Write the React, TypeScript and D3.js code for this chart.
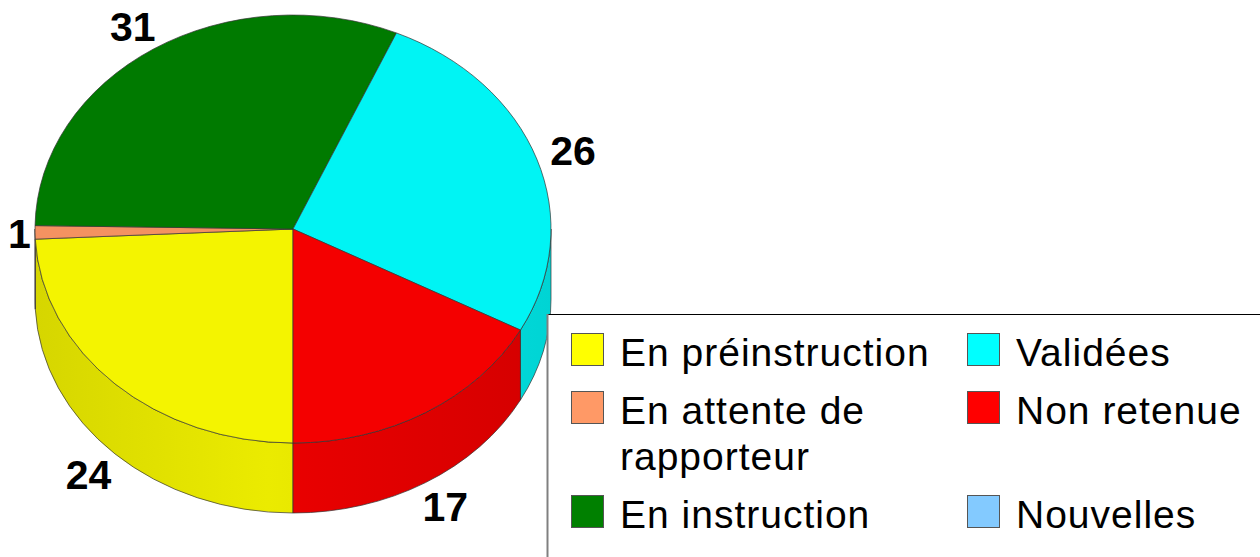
import React from 'react';
import * as d3 from 'd3';

const width = 1260;
const height = 557;
const font = "'Liberation Sans', Arial, sans-serif";

// data
const categories = ['En préinstruction', 'En attente de rapporteur', 'En instruction', 'Validées', 'Non retenue', 'Nouvelles'];
const values = [24, 1, 31, 26, 17, 0];
const colors = ['#ffff00', '#ff9966', '#008000', '#00ffff', '#ff0000', '#83caff'];
// legend columns (indexes into categories)
const legendCols = [[0, 1, 2], [3, 4, 5]];

// pie geometry
const cx = 293;
const cy = 229;
const rx = 258;
const ry = 214;
const depth = 70;

function shade(c: string, k: number) {
    const rgb = d3.rgb(c);
    return d3.rgb(rgb.r * k, rgb.g * k, rgb.b * k).formatHex();
}

// point on the top ellipse (a = angle from 12 o'clock, clockwise)
function pt(a: number, k = 1, dy = 0): [number, number] {
    return [cx + rx * k * Math.sin(a), cy - ry * k * Math.cos(a) + dy];
}

function topPath(a0: number, a1: number) {
    const p0 = pt(a0);
    const p1 = pt(a1);
    const large = a1 - a0 > Math.PI ? 1 : 0;
    return `M${cx},${cy}L${p0[0]},${p0[1]}A${rx},${ry} 0 ${large} 1 ${p1[0]},${p1[1]}Z`;
}

function sidePaths(a0: number, a1: number) {
    // only the front half (PI/2 .. 3PI/2, mod 2PI) is visible
    const out: string[] = [];
    for (const off of [0, 2 * Math.PI]) {
        const s = Math.max(a0, Math.PI / 2 + off);
        const e = Math.min(a1, 1.5 * Math.PI + off);
        if (e <= s) continue;
        const p0 = pt(s);
        const p1 = pt(e);
        const q0 = pt(s, 1, depth);
        const q1 = pt(e, 1, depth);
        out.push(`M${p0[0]},${p0[1]}A${rx},${ry} 0 0 1 ${p1[0]},${p1[1]}L${q1[0]},${q1[1]}A${rx},${ry} 0 0 0 ${q0[0]},${q0[1]}Z`);
    }
    return out;
}

let ctx: CanvasRenderingContext2D | null = null;
function textWidth(t: string, f: string, spacing = 0) {
    if (!ctx) ctx = document.createElement('canvas').getContext('2d');
    ctx!.font = f;
    return ctx!.measureText(t).width + spacing * t.length;
}

function wrap(t: string, f: string, maxW: number, spacing: number) {
    const words = t.split(' ');
    const lines: string[] = [];
    let cur = '';
    for (const w of words) {
        const test = cur ? cur + ' ' + w : w;
        if (cur && textWidth(test, f, spacing) > maxW) {
            lines.push(cur);
            cur = w;
        } else {
            cur = test;
        }
    }
    if (cur) lines.push(cur);
    return lines;
}

export default function App() {
    const data = categories.map((name, i) => ({name, value: values[i], color: colors[i]}));
    const arcs = d3.pie<any>()
        .value(d => d.value)
        .sort(null)
        .startAngle(Math.PI)
        .endAngle(3 * Math.PI)(data)
        .filter(a => a.value > 0);

    const labelSize = 41;
    const labelFont = `bold ${labelSize}px ${font}`;
    const labels = arcs.map(a => {
        const mid = (a.startAngle + a.endAngle) / 2;
        const front = Math.cos(mid) < -0.3;
        const [px, py] = pt(mid, 1.06, front ? depth : 0);
        const txt = String(a.value);
        const w = textWidth(txt, labelFont);
        const h = labelSize * 0.72;
        const x = Math.max(px + Math.sin(mid) * w / 2, w / 2 + 8);
        const yc = py - Math.cos(mid) * h / 2;
        return {txt, x, y: yc + h / 2};
    });

    // legend
    const legSize = 39;
    const legSpacing = 1;
    const legFont = `${legSize}px ${font}`;
    const lineH = 46;
    const colX = [571, 967];
    const rows = legendCols[0].map((_, r) => legendCols.map(col => wrap(categories[col[r]], legFont, 330, legSpacing)));
    let rowTop = 330;
    const legendItems: any[] = [];
    rows.forEach((row, r) => {
        const n = d3.max(row, l => l.length) || 1;
        row.forEach((lines, c) => {
            const idx = legendCols[c][r];
            legendItems.push({x: colX[c], top: rowTop, lines, color: colors[idx], key: idx});
        });
        rowTop += n * lineH + 12;
    });

    return (
        <svg width={width} height={height} style={{position: 'absolute', left: 0, top: 0, background: '#fff'}}>
            <defs>
                {arcs.map((a, i) => (
                    <linearGradient key={i} id={`side${i}`} gradientUnits='userSpaceOnUse' x1={cx - rx} x2={cx + rx} y1={0} y2={0}>
                        <stop offset='0' stopColor={shade(a.data.color, 0.84)}/>
                        <stop offset='0.45' stopColor={shade(a.data.color, 0.92)}/>
                        <stop offset='1' stopColor={shade(a.data.color, 0.83)}/>
                    </linearGradient>
                ))}
            </defs>
            <g stroke='#333' strokeWidth={0.7} strokeLinejoin='round'>
                {arcs.map((a, i) => sidePaths(a.startAngle, a.endAngle).map((d, j) => (
                    <path key={`s${i}-${j}`} d={d} fill={`url(#side${i})`}/>
                )))}
                {arcs.map((a, i) => (
                    <path key={'t' + i} d={topPath(a.startAngle, a.endAngle)} fill={shade(a.data.color, 0.955)}/>
                ))}
            </g>
            <g fontFamily={font} fontWeight='bold' fontSize={labelSize} textAnchor='middle'>
                {labels.map((l, i) => <text key={i} x={l.x} y={l.y}>{l.txt}</text>)}
            </g>
            <g>
                <rect x={547} y={314} width={width - 547} height={height - 314} fill='#fff'/>
                <line x1={547} x2={width} y1={314.5} y2={314.5} stroke='#000' strokeWidth={1}/>
                <line x1={547.5} x2={547.5} y1={314} y2={height} stroke='#808080' strokeWidth={2}/>
                {legendItems.map(it => (
                    <g key={it.key}>
                        <rect x={it.x + 0.5} y={it.top + 3.5} width={32} height={32} fill={it.color} stroke='#555' strokeWidth={1}/>
                        {it.lines.map((t: string, j: number) => (
                            <text key={j} x={it.x + 49} y={it.top + 36 + j * lineH} fontFamily={font} fontSize={legSize}
                                  letterSpacing={legSpacing}>{t}</text>
                        ))}
                    </g>
                ))}
            </g>
        </svg>
    );
}
